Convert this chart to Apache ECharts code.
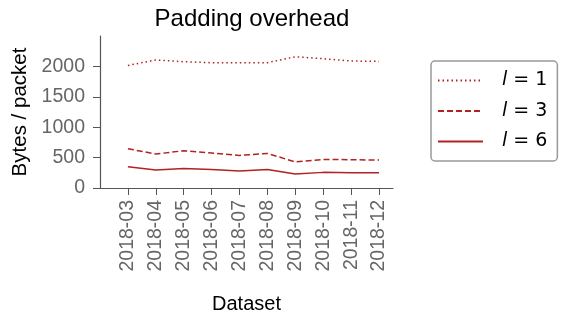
<!DOCTYPE html>
<html>
<head>
<meta charset="utf-8">
<script src="https://cdn.jsdelivr.net/npm/echarts@6/dist/echarts.min.js"></script>
<style>
  html, body { margin: 0; padding: 0; background: #fff; }
  #chart { width: 561px; height: 316px; }
</style>
</head>
<body>
<div id="chart"></div>
<script>
// 数据
const categories = ['2018-03', '2018-04', '2018-05', '2018-06', '2018-07',
                    '2018-08', '2018-09', '2018-10', '2018-11', '2018-12'];
const l1 = [2016, 2105, 2077, 2061, 2061, 2061, 2159, 2126, 2089, 2082];
const l3 = [646, 559, 613, 575, 536, 569, 428, 470, 465, 460];
const l6 = [350, 296, 322, 306, 280, 306, 230, 257, 252, 252];
const seriesNames = ['1', '3', '6'];
const yTicks = [0, 500, 1000, 1500, 2000];

const color = '#b22222';
const font = 'Liberation Sans, Arial, sans-serif';
const idx = categories.map((c, i) => i);

function toPoints(vals) {
    return vals.map((v, i) => [i, v]);
}

const chart = echarts.init(document.getElementById('chart'));

const option = {
    animation: false,
    title: {
        text: 'Padding overhead',
        left: 247,
        textAlign: 'center',
        top: 2,
        textStyle: { fontFamily: font, fontSize: 24, fontWeight: 'normal', color: '#000' }
    },
    grid: { left: 100, right: 168, top: 36, bottom: 128 },
    legend: {
        left: 431,
        top: 61,
        orient: 'vertical',
        width: 127,
        padding: [10, 10, 10, 6],
        borderColor: '#999',
        borderWidth: 1.5,
        borderRadius: 4,
        itemWidth: 45,
        itemHeight: 12,
        itemGap: 11.5,
        itemStyle: { opacity: 0 },
        formatter: function (name) {
            return '{i|l} = ' + name;
        },
        textStyle: {
            fontFamily: 'DejaVu Sans',
            fontSize: 19,
            color: '#000',
            padding: [0, 0, 0, 14],
            rich: {
                i: { fontFamily: 'DejaVu Sans', fontStyle: 'italic', fontSize: 19, color: '#000' }
            }
        }
    },
    xAxis: {
        type: 'value',
        min: -1,
        max: 9.5,
        name: 'Dataset',
        nameLocation: 'middle',
        nameGap: 106,
        nameTextStyle: { fontFamily: font, fontSize: 20, color: '#000' },
        splitLine: { show: false },
        axisLine: { onZero: false, lineStyle: { color: '#555', width: 1.2 } },
        axisTick: { customValues: idx, length: 7, lineStyle: { color: '#555' } },
        axisLabel: {
            customValues: idx,
            rotate: 90,
            margin: 12,
            fontFamily: font,
            fontSize: 19.5,
            color: '#666',
            formatter: v => categories[Math.round(v)] || ''
        }
    },
    yAxis: {
        type: 'value',
        min: 0,
        max: 2500,
        name: 'Bytes / packet',
        nameLocation: 'middle',
        nameGap: 63,
        nameTextStyle: { fontFamily: font, fontSize: 20.5, color: '#000' },
        splitLine: { show: false },
        axisLine: { show: true, onZero: false, lineStyle: { color: '#555', width: 1.2 } },
        axisTick: { show: true, customValues: yTicks, length: 7, lineStyle: { color: '#555' } },
        axisLabel: {
            customValues: yTicks,
            margin: 15,
            fontFamily: font,
            fontSize: 19.5,
            color: '#666',
            formatter: v => String(v)
        }
    },
    series: [
        {
            name: seriesNames[0], type: 'line', data: toPoints(l1),
            symbol: 'none', color: color,
            lineStyle: { width: 1.5, type: [1.5, 3], color: color }
        },
        {
            name: seriesNames[1], type: 'line', data: toPoints(l3),
            symbol: 'none', color: color,
            lineStyle: { width: 1.5, type: [6, 3], color: color }
        },
        {
            name: seriesNames[2], type: 'line', data: toPoints(l6),
            symbol: 'none', color: color,
            lineStyle: { width: 1.5, type: 'solid', color: color }
        }
    ]
};

chart.setOption(option);
</script>
</body>
</html>
